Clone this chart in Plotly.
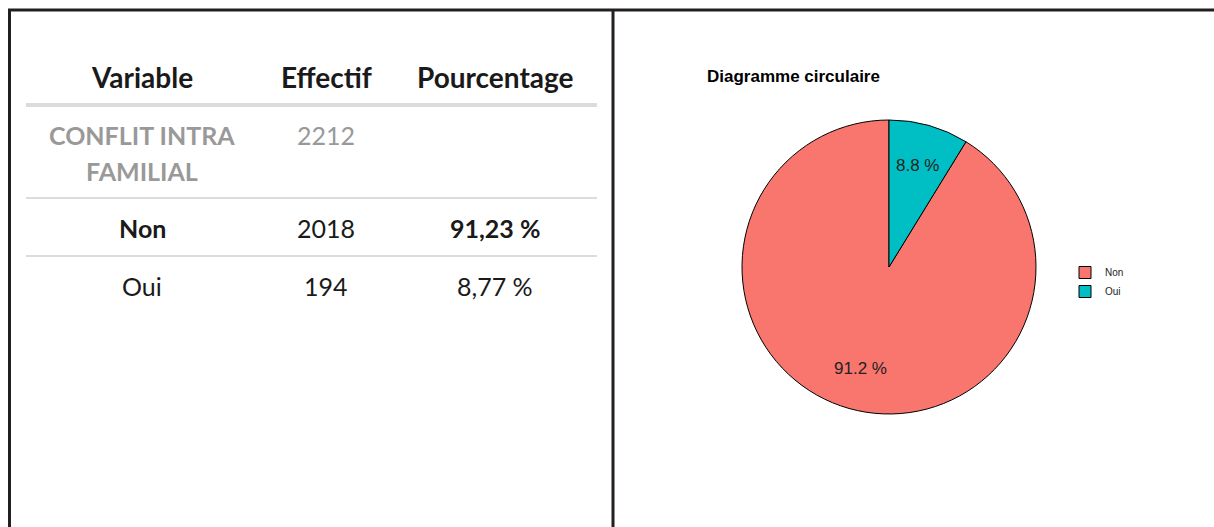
import math
import plotly.graph_objects as go

# ---- data ----
table_headers = ["Variable", "Effectif", "Pourcentage"]
variable_lines = ["CONFLIT INTRA", "FAMILIAL"]
total_effectif = 2212
categories = ["Non", "Oui"]
effectifs = [2018, 194]
pourcentages_txt = ["91,23 %", "8,77 %"]
pie_title = "Diagramme circulaire"
pie_colors = ["#F8766D", "#00BFC4"]

W, H = 1214, 527

def px(x):
    return x / W

def py(y):
    return 1 - y / H

fig = go.Figure()

total = sum(effectifs)
fracs = [v / total for v in effectifs]
pie_text = [f"{f * 100:.1f} %" for f in fracs]

# Oui occupies the wedge from 12 o'clock clockwise; Non follows
start_rot = 360 * fracs[1]

cx, cy, r = 889, 267, 147
fig.add_trace(go.Pie(
    labels=categories,
    values=effectifs,
    textinfo="none",
    marker=dict(colors=pie_colors, line=dict(color="black", width=1)),
    sort=False,
    direction="clockwise",
    rotation=start_rot,
    hoverinfo="label+percent",
    domain=dict(x=[px(cx - r), px(cx + r)], y=[py(cy + r), py(cy - r)]),
))

shapes = []
border = dict(color="#231f20", width=3)
shapes.append(dict(type="line", xref="paper", yref="paper", x0=px(8), x1=1, y0=py(10), y1=py(10), line=border))
shapes.append(dict(type="line", xref="paper", yref="paper", x0=px(9.5), x1=px(9.5), y0=py(10), y1=0, line=border))
shapes.append(dict(type="line", xref="paper", yref="paper", x0=px(613), x1=px(613), y0=py(10), y1=0, line=border))
# table rules
shapes.append(dict(type="line", xref="paper", yref="paper", x0=px(26), x1=px(597), y0=py(105), y1=py(105), line=dict(color="#dcdcdc", width=4)))
shapes.append(dict(type="line", xref="paper", yref="paper", x0=px(26), x1=px(597), y0=py(198), y1=py(198), line=dict(color="#dcdcdc", width=2)))
shapes.append(dict(type="line", xref="paper", yref="paper", x0=px(26), x1=px(597), y0=py(256), y1=py(256), line=dict(color="#dcdcdc", width=2)))

col_x = [142, 326, 495]
tfont = "Lato, Open Sans, sans-serif"
gray = "#999999"
ann = []
for h, x in zip(table_headers, col_x):
    ann.append(dict(text=f"<b>{h}</b>", x=px(x), y=py(77), xref="paper", yref="paper", showarrow=False,
                    font=dict(family=tfont, size=28, color="#1a1a1a"), xanchor="center", yanchor="middle"))
for k, line in enumerate(variable_lines):
    ann.append(dict(text=f"<b>{line}</b>", x=px(142), y=py(135 + 36 * k), xref="paper", yref="paper", showarrow=False,
                    font=dict(family=tfont, size=25, color=gray), xanchor="center", yanchor="middle"))
ann.append(dict(text=str(total_effectif), x=px(326), y=py(135), xref="paper", yref="paper", showarrow=False,
                font=dict(family=tfont, size=25, color=gray), xanchor="center", yanchor="middle"))
row_y = [228, 286]
for i, (c, e, p) in enumerate(zip(categories, effectifs, pourcentages_txt)):
    bold = i == 0
    cb = f"<b>{c}</b>" if bold else c
    pb = f"<b>{p}</b>" if bold else p
    for t, x in zip([cb, str(e), pb], col_x):
        ann.append(dict(text=t, x=px(x), y=py(row_y[i]), xref="paper", yref="paper", showarrow=False,
                        font=dict(family=tfont, size=25, color="#1a1a1a"), xanchor="center", yanchor="middle"))

# pie labels at mid-angle of each slice, ~0.71 of radius (as ggplot places them)
cum = 0.0
order = [1, 0]  # Oui wedge starts at 12 o'clock
for idx in order:
    mid = (cum + fracs[idx] / 2) * 2 * math.pi
    cum += fracs[idx]
    lx = cx + 0.71 * r * math.sin(mid)
    ly = cy - 0.72 * r * math.cos(mid)
    ann.append(dict(text=pie_text[idx], x=px(lx), y=py(ly), xref="paper", yref="paper", showarrow=False,
                    font=dict(family="Liberation Sans, Arial", size=17, color="#222"),
                    xanchor="center", yanchor="middle"))

ann.append(dict(text=f"<b>{pie_title}</b>", x=px(705), y=py(76), xref="paper", yref="paper", showarrow=False,
                font=dict(family="Liberation Sans, Arial", size=17, color="black"), xanchor="left", yanchor="middle"))

fig.update_layout(
    width=W, height=H,
    margin=dict(l=0, r=0, t=0, b=0),
    paper_bgcolor="white", plot_bgcolor="white",
    shapes=shapes, annotations=ann,
    showlegend=True,
    legend=dict(x=px(1065), y=py(258), xanchor="left", yanchor="top",
                font=dict(family="Liberation Sans, Arial", size=10, color="#222"),
                tracegroupgap=0, itemwidth=30),
)

fig.write_html("out.html", config={"displayModeBar": False},
               post_script="document.body.style.margin='0';document.body.style.overflow='hidden';")
